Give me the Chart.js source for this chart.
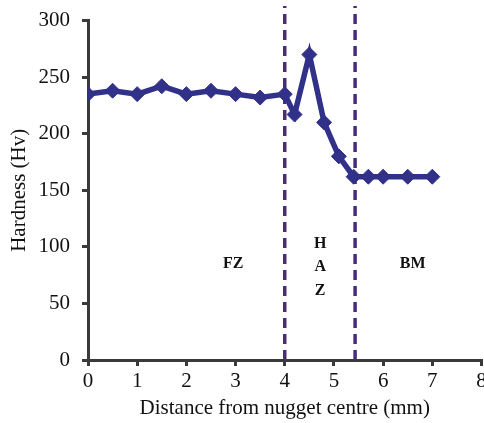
<!DOCTYPE html>
<html lang="en">
<head>
  <meta charset="UTF-8">
  <title>Hardness profile</title>
  <script src="https://cdn.jsdelivr.net/npm/chart.js"></script>
  <style>
    html, body {
      margin: 0;
      padding: 0;
      background: #ffffff;
      overflow: hidden;
    }
    .chart-box {
      width: 490px;
      height: 427px;
      margin-top: -4px;
    }
  </style>
</head>
<body>
  <div class="chart-box">
    <canvas id="myChart" width="490" height="427"></canvas>
  </div>

  <script>
    // Datos
    const distancia = [0, 0.5, 1, 1.5, 2, 2.5, 3, 3.5, 4, 4.2, 4.5, 4.8, 5.1, 5.4, 5.7, 6, 6.5, 7];
    const dureza    = [235, 238, 235, 242, 235, 238, 235, 232, 235, 217, 270, 210, 180, 162, 162, 162, 162, 162];

    // Limites de zona (lineas verticales punteadas)
    const limitesZona = [4, 5.43];
    const limiteAlto = 313;

    // Etiquetas de zona: texto, posicion x, posicion y (en unidades de datos)
    const zonaTexto = ['FZ', 'H', 'A', 'Z', 'BM'];
    const zonaX     = [2.95, 4.72, 4.72, 4.72, 6.6];
    const zonaY     = [85, 103, 82, 61, 85];

    const serif = "'Liberation Serif', 'DejaVu Serif', serif";
    const ejeColor = '#3a3a3a';

    // Plugin simple para escribir las etiquetas de zona
    const zonaLabels = {
      id: 'zonaLabels',
      afterDatasetsDraw(chart) {
        const ctx = chart.ctx;
        const sx = chart.scales.x;
        const sy = chart.scales.y;
        ctx.save();
        ctx.font = 'bold 16px ' + serif;
        ctx.fillStyle = '#111';
        ctx.textAlign = 'center';
        ctx.textBaseline = 'middle';
        zonaTexto.forEach((t, i) => {
          ctx.fillText(t, sx.getPixelForValue(zonaX[i]), sy.getPixelForValue(zonaY[i]));
        });
        ctx.restore();
      }
    };

    const lineasZona = limitesZona.map(v => ({
      data: [{x: v, y: 0}, {x: v, y: limiteAlto}],
      borderColor: '#4b2c7c',
      borderWidth: 3.5,
      borderDash: [10, 6],
      pointRadius: 0,
      fill: false,
      clip: false
    }));

    const ctx1 = document.getElementById('myChart').getContext('2d');
    const myChart = new Chart(ctx1, {
      type: 'line',
      data: {
        datasets: [
          {
            label: 'Hardness',
            data: distancia.map((d, i) => ({x: d, y: dureza[i]})),
            borderColor: '#31318a',
            backgroundColor: '#31318a',
            borderWidth: 5.5,
            pointStyle: 'rectRot',
            pointRadius: 7.5,
            pointBorderWidth: 1,
            pointBackgroundColor: '#31318a',
            pointBorderColor: '#31318a',
            tension: 0,
            fill: false
          },
          ...lineasZona
        ]
      },
      options: {
        responsive: false,
        animation: false,
        layout: {
          padding: {top: 1, left: 0, right: 0, bottom: 0}
        },
        plugins: {
          legend: {display: false},
          tooltip: {enabled: false}
        },
        scales: {
          x: {
            type: 'linear',
            min: 0,
            max: 8,
            afterFit(scale) { scale.height = 63; },
            border: {display: true, color: ejeColor, width: 3},
            grid: {drawOnChartArea: false, drawTicks: true, tickLength: 6, color: ejeColor, lineWidth: 3},
            ticks: {
              stepSize: 1,
              padding: 3,
              color: '#111',
              font: {family: serif, size: 21}
            },
            title: {
              display: true,
              text: 'Distance from nugget centre (mm)',
              color: '#111',
              font: {family: serif, size: 21},
              padding: {top: 0, bottom: 2}
            }
          },
          y: {
            type: 'linear',
            min: 0,
            max: 300,
            afterFit(scale) { scale.width = 88; },
            border: {display: true, color: ejeColor, width: 3},
            grid: {drawOnChartArea: false, drawTicks: true, tickLength: 6, color: ejeColor, lineWidth: 3},
            ticks: {
              stepSize: 50,
              padding: 12,
              color: '#111',
              font: {family: serif, size: 21}
            },
            title: {
              display: true,
              text: 'Hardness (Hv)',
              color: '#111',
              font: {family: serif, size: 21},
              padding: {top: 7, bottom: 0}
            }
          }
        }
      },
      plugins: [zonaLabels]
    });
  </script>
</body>
</html>
